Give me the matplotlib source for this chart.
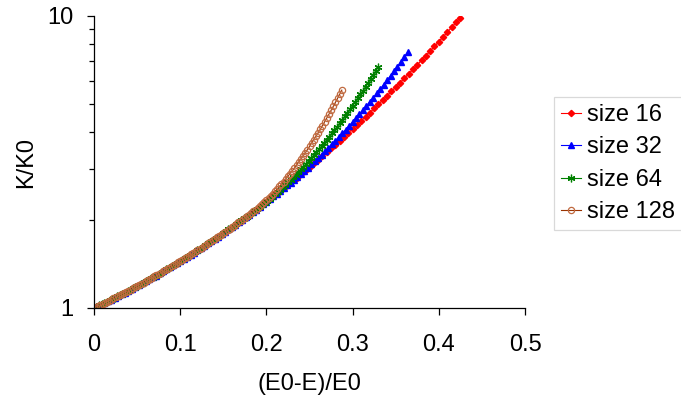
import matplotlib.pyplot as plt
import numpy as np
from matplotlib.ticker import LogLocator, NullFormatter

plt.rcParams['font.family'] = ['Liberation Sans', 'DejaVu Sans']

# K/K0, one value per marker
k_size16 = [
    1.000, 1.016, 1.033, 1.051, 1.069, 1.087, 1.106, 1.126, 1.146, 1.167,
    1.189, 1.211, 1.234, 1.258, 1.282, 1.308, 1.334, 1.361, 1.389, 1.417,
    1.447, 1.478, 1.510, 1.542, 1.576, 1.611, 1.648, 1.685, 1.724, 1.764,
    1.806, 1.849, 1.893, 1.940, 1.987, 2.037, 2.088, 2.141, 2.196, 2.253,
    2.312, 2.373, 2.437, 2.503, 2.571, 2.642, 2.716, 2.792, 2.872, 2.954,
    3.040, 3.129, 3.221, 3.317, 3.417, 3.521, 3.629, 3.741, 3.858, 3.980,
    4.107, 4.239, 4.376, 4.519, 4.669, 4.824, 4.986, 5.155, 5.332, 5.515,
    5.707, 5.908, 6.117, 6.335, 6.563, 6.802, 7.051, 7.311, 7.583, 7.868,
    8.166, 8.477, 8.804, 9.145, 9.503, 9.877]
k_size32 = [
    1.000, 1.013, 1.026, 1.040, 1.054, 1.069, 1.083, 1.098, 1.114, 1.130,
    1.146, 1.163, 1.180, 1.198, 1.216, 1.234, 1.253, 1.272, 1.292, 1.313,
    1.334, 1.355, 1.377, 1.400, 1.423, 1.447, 1.472, 1.497, 1.523, 1.549,
    1.576, 1.604, 1.633, 1.663, 1.693, 1.724, 1.756, 1.789, 1.823, 1.858,
    1.893, 1.930, 1.968, 2.007, 2.047, 2.088, 2.130, 2.174, 2.219, 2.265,
    2.312, 2.361, 2.411, 2.463, 2.516, 2.571, 2.628, 2.687, 2.749, 2.814,
    2.881, 2.952, 3.025, 3.102, 3.182, 3.265, 3.353, 3.444, 3.539, 3.638,
    3.742, 3.851, 3.964, 4.083, 4.208, 4.338, 4.474, 4.616, 4.765, 4.921,
    5.085, 5.256, 5.436, 5.624, 5.822, 6.029, 6.247, 6.475, 6.715, 6.967,
    7.232, 7.510]
k_size64 = [
    1.000, 1.010, 1.020, 1.030, 1.040, 1.051, 1.061, 1.072, 1.083, 1.095,
    1.106, 1.118, 1.130, 1.142, 1.154, 1.167, 1.180, 1.193, 1.206, 1.220,
    1.234, 1.248, 1.263, 1.277, 1.292, 1.308, 1.323, 1.339, 1.355, 1.372,
    1.389, 1.406, 1.423, 1.441, 1.459, 1.478, 1.497, 1.516, 1.536, 1.556,
    1.576, 1.597, 1.619, 1.640, 1.663, 1.685, 1.708, 1.732, 1.756, 1.781,
    1.806, 1.832, 1.858, 1.884, 1.912, 1.940, 1.968, 1.997, 2.027, 2.057,
    2.088, 2.120, 2.152, 2.185, 2.219, 2.254, 2.290, 2.328, 2.368, 2.409,
    2.452, 2.496, 2.542, 2.590, 2.640, 2.692, 2.745, 2.801, 2.859, 2.920,
    2.983, 3.048, 3.116, 3.186, 3.259, 3.336, 3.415, 3.497, 3.583, 3.673,
    3.765, 3.862, 3.963, 4.068, 4.177, 4.290, 4.409, 4.532, 4.661, 4.795,
    4.934, 5.080, 5.232, 5.391, 5.556, 5.729, 5.909, 6.097, 6.293, 6.499,
    6.713]
k_size128 = [
    1.000, 1.008, 1.016, 1.025, 1.033, 1.042, 1.051, 1.060, 1.069, 1.078,
    1.087, 1.097, 1.106, 1.116, 1.126, 1.136, 1.146, 1.157, 1.167, 1.178,
    1.189, 1.200, 1.211, 1.222, 1.234, 1.246, 1.258, 1.270, 1.282, 1.295,
    1.308, 1.321, 1.334, 1.347, 1.361, 1.375, 1.389, 1.403, 1.417, 1.432,
    1.447, 1.462, 1.478, 1.494, 1.510, 1.526, 1.542, 1.559, 1.576, 1.594,
    1.611, 1.629, 1.648, 1.666, 1.685, 1.705, 1.724, 1.744, 1.764, 1.785,
    1.806, 1.827, 1.849, 1.871, 1.893, 1.916, 1.940, 1.963, 1.987, 2.012,
    2.037, 2.062, 2.088, 2.115, 2.143, 2.172, 2.203, 2.236, 2.270, 2.306,
    2.343, 2.382, 2.423, 2.466, 2.511, 2.558, 2.607, 2.658, 2.711, 2.767,
    2.826, 2.887, 2.950, 3.017, 3.087, 3.160, 3.236, 3.315, 3.398, 3.485,
    3.576, 3.671, 3.770, 3.874, 3.982, 4.096, 4.215, 4.339, 4.470, 4.606,
    4.749, 4.899, 5.056, 5.220, 5.392, 5.573]

# sampling interval of (E0-E)/E0 for each lattice size
de_steps = [0.005, 0.004, 0.003, 0.0025]
labels = ['size 16', 'size 32', 'size 64', 'size 128']
x_ticks = [0, 0.1, 0.2, 0.3, 0.4, 0.5]
x_tick_labels = ['0', '0.1', '0.2', '0.3', '0.4', '0.5']

fs = 17

fig = plt.figure(figsize=(6.81, 4.01), dpi=100)
ax = fig.add_axes([94/681, 1 - 308/401, 431/681, 292/401])

styles = [
    dict(color='#ff0000', marker='D', ms=3.2, mfc='#ff0000', mec='#ff0000'),
    dict(color='#0000ff', marker='^', ms=5, mfc='#0000ff', mec='#0000ff'),
    dict(color='#008000', marker=(6, 2, 0), ms=5.5, mec='#008000', mew=0.9),
    dict(color='#993300', marker='o', ms=4.5, mfc='none', mec='#c06a40', mew=0.9),
]
for k, step, lab, st in zip([k_size16, k_size32, k_size64, k_size128],
                            de_steps, labels, styles):
    x = np.arange(len(k)) * step
    ax.plot(x, k, lw=0.8, label=lab, **st)

ax.set_yscale('log')
ax.set_xlim(0, 0.5)
ax.set_ylim(1, 10)
ax.set_yticks([1, 10])
ax.set_yticklabels(['1', '10'])
ax.yaxis.set_minor_locator(LogLocator(base=10, subs=range(2, 10)))
ax.yaxis.set_minor_formatter(NullFormatter())
ax.set_xticks(x_ticks)
ax.set_xticklabels(x_tick_labels)

for s in ['top', 'right']:
    ax.spines[s].set_visible(False)
for s in ['left', 'bottom']:
    ax.spines[s].set_linewidth(0.9)
ax.tick_params(which='major', direction='out', length=5, width=0.9,
               labelsize=fs)
ax.tick_params(axis='x', which='major', pad=14)
ax.tick_params(axis='y', which='major', pad=10)
ax.tick_params(which='minor', direction='out', length=3.6, width=0.9)

ax.set_xlabel('(E0-E)/E0', fontsize=fs, labelpad=12)
ax.set_ylabel('K/K0', fontsize=fs, labelpad=7)

leg = fig.legend(loc='upper left', bbox_to_anchor=(554/681, 1 - 97/401),
                 fontsize=fs, frameon=True, fancybox=False,
                 edgecolor='#d0d0d0', borderaxespad=0, borderpad=0.3,
                 handlelength=0.85, handletextpad=0.25, labelspacing=0.44)
leg.get_frame().set_linewidth(0.9)

fig.savefig('out.png', dpi=100)
